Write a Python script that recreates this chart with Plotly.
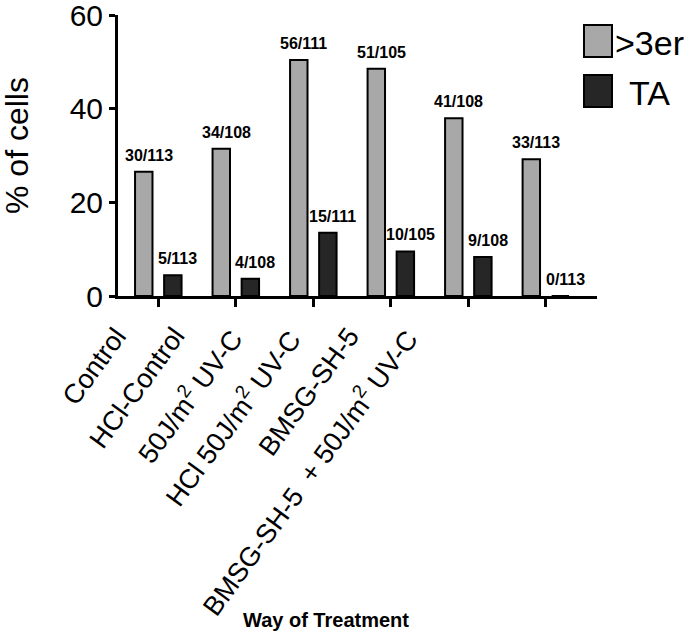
import plotly.graph_objects as go

# data
treatments = ['Control', 'HCl-Control', '50J/m<sup>2</sup> UV-C', 'HCl 50J/m<sup>2</sup> UV-C',
              'BMSG-SH-5', 'BMSG-SH-5  + 50J/m<sup>2</sup> UV-C']
er_counts = [30, 34, 56, 51, 41, 33]
ta_counts = [5, 4, 15, 10, 9, 0]
totals = [113, 108, 111, 105, 108, 113]
series_names = ['>3er', 'TA']
y_ticks = [0, 20, 40, 60]

er_pct = [c / t * 100 for c, t in zip(er_counts, totals)]
ta_pct = [c / t * 100 for c, t in zip(ta_counts, totals)]

grayColor = '#a8a8a8'
blackColor = '#262626'
FONT = 'Liberation Sans, Arial, sans-serif'

W, H = 696, 637
L, T = 118, 15
R = W - 597
B = H - 296
pw = W - L - R
ph = H - T - B


def px_x(x):
    # x in pixels -> paper coordinate
    return (x - L) / pw


def px_y(y):
    return (H - B - y) / ph


fig = go.Figure()
fig.add_trace(go.Bar(x=list(range(len(treatments))), y=er_pct, name=series_names[0],
                     marker=dict(color=grayColor, line=dict(color='black', width=2)),
                     showlegend=False))
fig.add_trace(go.Bar(x=list(range(len(treatments))), y=ta_pct, name=series_names[1],
                     marker=dict(color=blackColor, line=dict(color='black', width=2)),
                     showlegend=False))

# count labels above the bars
offset = 0.187
for i in range(len(treatments)):
    for vals, cnt, sign in ((er_pct, er_counts, -1), (ta_pct, ta_counts, 1)):
        fig.add_annotation(x=i + sign * offset, y=vals[i], xref='x', yref='y',
                           text='%d/%d' % (cnt[i], totals[i]), showarrow=False,
                           xanchor='center', yanchor='bottom', xshift=5, yshift=6,
                           font=dict(family=FONT, size=16, color='black', weight='bold'))

# rotated category labels (they sit left of the ticks in the original)
for i, name in enumerate(treatments):
    fig.add_annotation(x=px_x(134 + 58.1 * i), y=px_y(321), xref='paper', yref='paper',
                       text=name, showarrow=False, textangle=-54,
                       xanchor='right', yanchor='top', borderpad=0,
                       font=dict(family=FONT, size=27, color='black'))

# axis titles
fig.add_annotation(x=px_x(17), y=px_y(146), xref='paper', yref='paper',
                   text='% of cells', showarrow=False, textangle=-90,
                   xanchor='center', yanchor='middle',
                   font=dict(family=FONT, size=32, color='black'))
fig.add_annotation(x=px_x(326), y=px_y(620), xref='paper', yref='paper',
                   text='Way of Treatment', showarrow=False,
                   xanchor='center', yanchor='middle',
                   font=dict(family=FONT, size=20, color='black', weight='bold'))

# hand-drawn legend with big swatches
legend_rows = [(grayColor, 25, 57, 613), (blackColor, 75, 107, 627)]
for (color, y0, y1, tx), label in zip(legend_rows, series_names):
    fig.add_shape(type='rect', xref='paper', yref='paper',
                  x0=px_x(584), x1=px_x(612), y0=px_y(y1), y1=px_y(y0),
                  fillcolor=color, line=dict(color='black', width=2))
    fig.add_annotation(x=px_x(tx), y=px_y((y0 + y1) / 2 + 2), xref='paper', yref='paper',
                       text=label, showarrow=False, xanchor='left', yanchor='middle',
                       font=dict(family=FONT, size=34, color='black'))

fig.update_layout(
    width=W, height=H,
    margin=dict(l=L, r=R, t=T, b=B, pad=0, autoexpand=False),
    paper_bgcolor='white', plot_bgcolor='white',
    barmode='group', bargap=0.25, bargroupgap=0.4,
    font=dict(family=FONT, color='black'),
)
fig.update_xaxes(range=[-0.52, 5.66], showline=True, linecolor='black', linewidth=3,
                 ticks='outside', ticklen=8, tickwidth=2.5, tickcolor='black',
                 tickvals=list(range(len(treatments))), showticklabels=False,
                 showgrid=False, zeroline=False)
fig.update_yaxes(range=[0, 60.05], tickvals=y_ticks, showline=True, linecolor='black',
                 linewidth=3, ticks='outside', ticklen=6, tickwidth=3, tickcolor='black',
                 tickfont=dict(family=FONT, size=30, color='black'),
                 ticklabeloverflow='allow',
                 showgrid=False, zeroline=False)

# drop the default 8px page margin so the figure fills the window
fig.write_html("out.html", config={'displayModeBar': False},
               post_script="document.body.style.margin='0';")
